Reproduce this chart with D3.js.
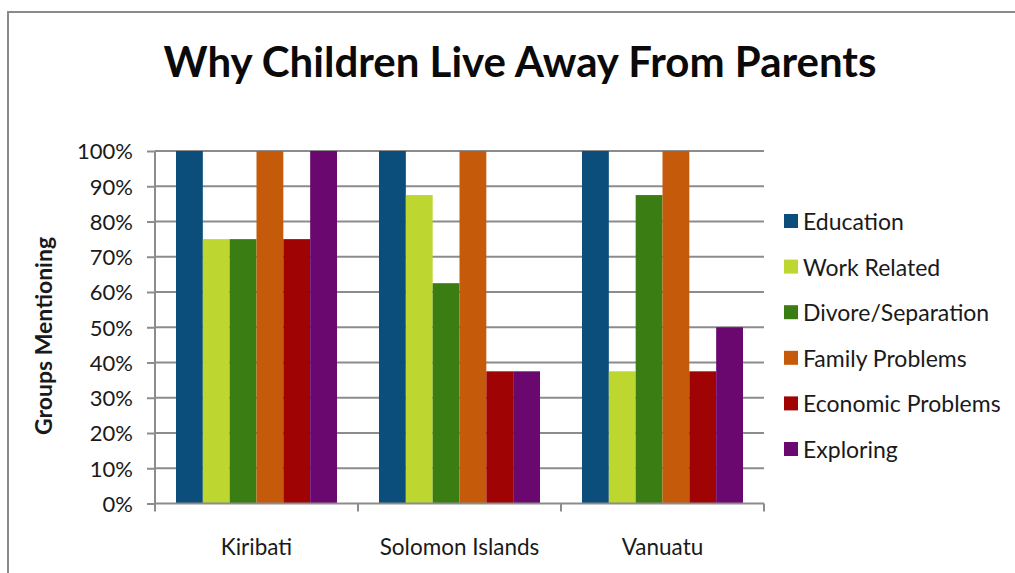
<!DOCTYPE html>
<html>
<head>
<meta charset="utf-8">
<script src="https://cdn.jsdelivr.net/npm/d3@7"></script>
<style>
  html, body { margin: 0; padding: 0; background: #fff; }
  svg { display: block; }
  text { font-family: Lato, "Open Sans", "Liberation Sans", sans-serif; fill: #1a1a1a; }
</style>
</head>
<body>
<svg id="chart" width="1015" height="573"></svg>
<script>
// Survey results: share of groups mentioning each reason, per country
const countries = ["Kiribati", "Solomon Islands", "Vanuatu"];
const reasons = ["Education", "Work Related", "Divore/Separation", "Family Problems", "Economic Problems", "Exploring"];
const colors = ["#0b4d7b", "#bdd630", "#3a7d13", "#c65a0b", "#a00304", "#6b0870"];

const education        = [1.00, 1.00, 1.00];
const workRelated      = [0.75, 0.875, 0.375];
const divorce          = [0.75, 0.625, 0.875];
const familyProblems   = [1.00, 1.00, 1.00];
const economicProblems = [0.75, 0.375, 0.375];
const exploring        = [1.00, 0.375, 0.50];

const yTicks = [0, 0.1, 0.2, 0.3, 0.4, 0.5, 0.6, 0.7, 0.8, 0.9, 1.0];

const series = [education, workRelated, divorce, familyProblems, economicProblems, exploring];

const svg = d3.select("#chart");
const W = 1015, H = 573;
const plot = { left: 155, right: 764, top: 151, bottom: 503.5 };

// outer frame
svg.append("rect")
  .attr("x", 8).attr("y", 12)
  .attr("width", W + 20).attr("height", H + 20)
  .attr("fill", "none").attr("stroke", "#8a8a8a").attr("stroke-width", 2);

// title
svg.append("text")
  .attr("x", 520).attr("y", 77)
  .attr("text-anchor", "middle")
  .style("font-size", "42px").style("font-weight", "bold")
  .style("fill", "#0a0a0a")
  .text("Why Children Live Away From Parents");

const x0 = d3.scaleBand().domain(countries).range([plot.left, plot.right]).paddingInner(0).paddingOuter(0);
const x1 = d3.scaleBand().domain(reasons).range([21, x0.bandwidth() - 21]).padding(0);
const y = d3.scaleLinear().domain([0, 1]).range([plot.bottom, plot.top]);

// horizontal gridlines
svg.append("g")
  .selectAll("line")
  .data(yTicks.filter(t => t > 0))
  .join("line")
  .attr("x1", plot.left).attr("x2", plot.right)
  .attr("y1", d => y(d)).attr("y2", d => y(d))
  .attr("stroke", "#8c8c8c").attr("stroke-width", 2);

// bars
const groups = svg.append("g")
  .selectAll("g")
  .data(countries)
  .join("g")
  .attr("transform", d => `translate(${x0(d)},0)`);

groups.selectAll("rect")
  .data((c, ci) => reasons.map((r, ri) => ({ r, ri, v: series[ri][ci] })))
  .join("rect")
  .attr("x", d => x1(d.r))
  .attr("y", d => y(d.v))
  .attr("width", x1.bandwidth())
  .attr("height", d => y(0) - y(d.v))
  .attr("fill", d => colors[d.ri]);

// y axis
const yAxis = d3.axisLeft(y)
  .tickValues(yTicks)
  .tickFormat(d3.format(".0%"))
  .tickSize(8)
  .tickPadding(14);
const gy = svg.append("g").attr("transform", `translate(${plot.left},0)`).call(yAxis);
gy.select(".domain").attr("stroke", "#8c8c8c").attr("stroke-width", 2).attr("d", `M0,${plot.top}V${plot.bottom}`);
gy.selectAll(".tick line").attr("stroke", "#8c8c8c").attr("stroke-width", 2);
gy.selectAll(".tick text")
  .style("font-size", "22px")
  .style("font-family", "Lato, 'Open Sans', sans-serif")
  .attr("fill", "#1a1a1a")
  .attr("dy", "0.36em");

// x axis with boundary ticks
const gx = svg.append("g").attr("transform", `translate(0,${plot.bottom})`);
gx.append("line")
  .attr("x1", plot.left).attr("x2", plot.right)
  .attr("stroke", "#8c8c8c").attr("stroke-width", 2);
const bounds = countries.map(c => x0(c)).concat([x0(countries[countries.length - 1]) + x0.bandwidth()]);
gx.selectAll("line.b")
  .data(bounds)
  .join("line")
  .attr("class", "b")
  .attr("x1", d => d).attr("x2", d => d)
  .attr("y1", 0).attr("y2", 8)
  .attr("stroke", "#8c8c8c").attr("stroke-width", 2);
gx.selectAll("text")
  .data(countries)
  .join("text")
  .attr("x", d => x0(d) + x0.bandwidth() / 2)
  .attr("y", 51)
  .attr("text-anchor", "middle")
  .style("font-size", "22.5px")
  .text(d => d);

// y axis title
svg.append("text")
  .attr("transform", "translate(52,336) rotate(-90)")
  .attr("text-anchor", "middle")
  .style("font-size", "23px").style("font-weight", "bold")
  .text("Groups Mentioning");

// legend
const legend = svg.append("g").attr("transform", "translate(784,222)");
const items = legend.selectAll("g")
  .data(reasons)
  .join("g")
  .attr("transform", (d, i) => `translate(0,${i * 45.6})`);
items.append("rect")
  .attr("x", 0).attr("y", -8)
  .attr("width", 14).attr("height", 14)
  .attr("fill", (d, i) => colors[i]);
items.append("text")
  .attr("x", 19).attr("y", 0)
  .attr("dy", "0.35em")
  .style("font-size", "23px")
  .text(d => d);
</script>
</body>
</html>
